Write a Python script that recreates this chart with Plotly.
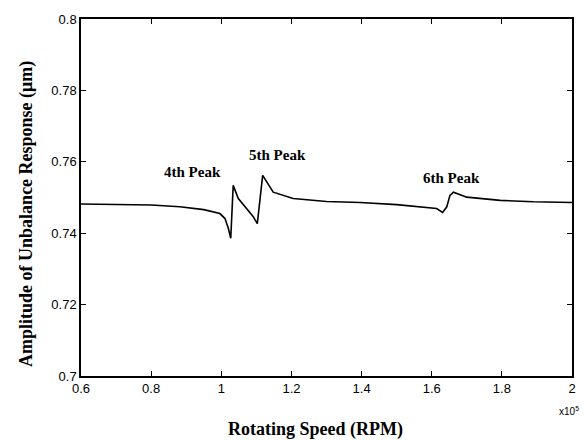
import plotly.graph_objects as go

# Rotating speed (x1e5 RPM) and amplitude (um)
speed = [0.60, 0.70, 0.80, 0.882, 0.95, 0.996, 1.0106, 1.020, 1.027, 1.034, 1.0485,
         1.0913, 1.1027, 1.118, 1.1247, 1.148, 1.205, 1.30, 1.396, 1.50, 1.614, 1.631,
         1.643, 1.652, 1.662, 1.70, 1.795, 1.89, 2.00]
amplitude = [0.7482, 0.7481, 0.7479, 0.7474, 0.7466, 0.7455, 0.7441, 0.7414, 0.7386,
             0.7534, 0.7497, 0.7446, 0.7427, 0.7562, 0.7552, 0.7515, 0.7497, 0.7489,
             0.7486, 0.7480, 0.7469, 0.7458, 0.7474, 0.7506, 0.7515, 0.7501, 0.7492,
             0.7488, 0.7486]

peak_labels = ["4th Peak", "5th Peak", "6th Peak"]
peak_x = [0.919, 1.159, 1.655]
peak_y = [0.7571, 0.7620, 0.7554]

x_ticks = [0.6, 0.8, 1.0, 1.2, 1.4, 1.6, 1.8, 2.0]
x_tick_text = ["0.6", "0.8", "1", "1.2", "1.4", "1.6", "1.8", "2"]
y_ticks = [0.70, 0.72, 0.74, 0.76, 0.78, 0.80]
y_tick_text = ["0.7", "0.72", "0.74", "0.76", "0.78", "0.8"]

fig = go.Figure()
fig.add_trace(go.Scatter(x=speed, y=amplitude, mode="lines",
                         line=dict(color="black", width=1.6), showlegend=False))

serif = "Liberation Serif, Times New Roman, serif"
sans = "Liberation Sans, Arial, sans-serif"

for t, xv, yv in zip(peak_labels, peak_x, peak_y):
    fig.add_annotation(x=xv, y=yv, text="<b>" + t + "</b>", showarrow=False,
                       font=dict(family=serif, size=15, color="black"))

fig.add_annotation(xref="paper", yref="paper", x=0.477, y=-0.15, yanchor="middle",
                   text="<b>Rotating Speed (RPM)</b>", showarrow=False,
                   font=dict(family=serif, size=18, color="black"))
fig.add_annotation(xref="paper", yref="paper", x=-0.11, y=0.454, textangle=-90,
                   xanchor="center", yanchor="middle",
                   text="<b>Amplitude of Unbalance Response (\u03bcm)</b>", showarrow=False,
                   font=dict(family=serif, size=18, color="black"))
fig.add_annotation(xref="paper", yref="paper", x=1.018, y=-0.097, xanchor="right",
                   yanchor="middle", text="x10<sup>5</sup>", showarrow=False,
                   font=dict(family=sans, size=10, color="black"))

axis_common = dict(showgrid=False, zeroline=False, showline=True, linecolor="black",
                   linewidth=1.5, mirror="allticks", ticks="inside", ticklen=5,
                   tickcolor="black", tickwidth=1,
                   tickfont=dict(family=sans, size=13, color="black"))

fig.update_xaxes(range=[0.6, 2.0], tickvals=x_ticks, ticktext=x_tick_text, **axis_common)
fig.update_yaxes(range=[0.70, 0.80], tickvals=y_ticks, ticktext=y_tick_text, **axis_common)

fig.update_layout(width=588, height=440, margin=dict(l=81, r=16, t=15, b=64),
                  paper_bgcolor="white", plot_bgcolor="white")

fig.write_html("out.html")
